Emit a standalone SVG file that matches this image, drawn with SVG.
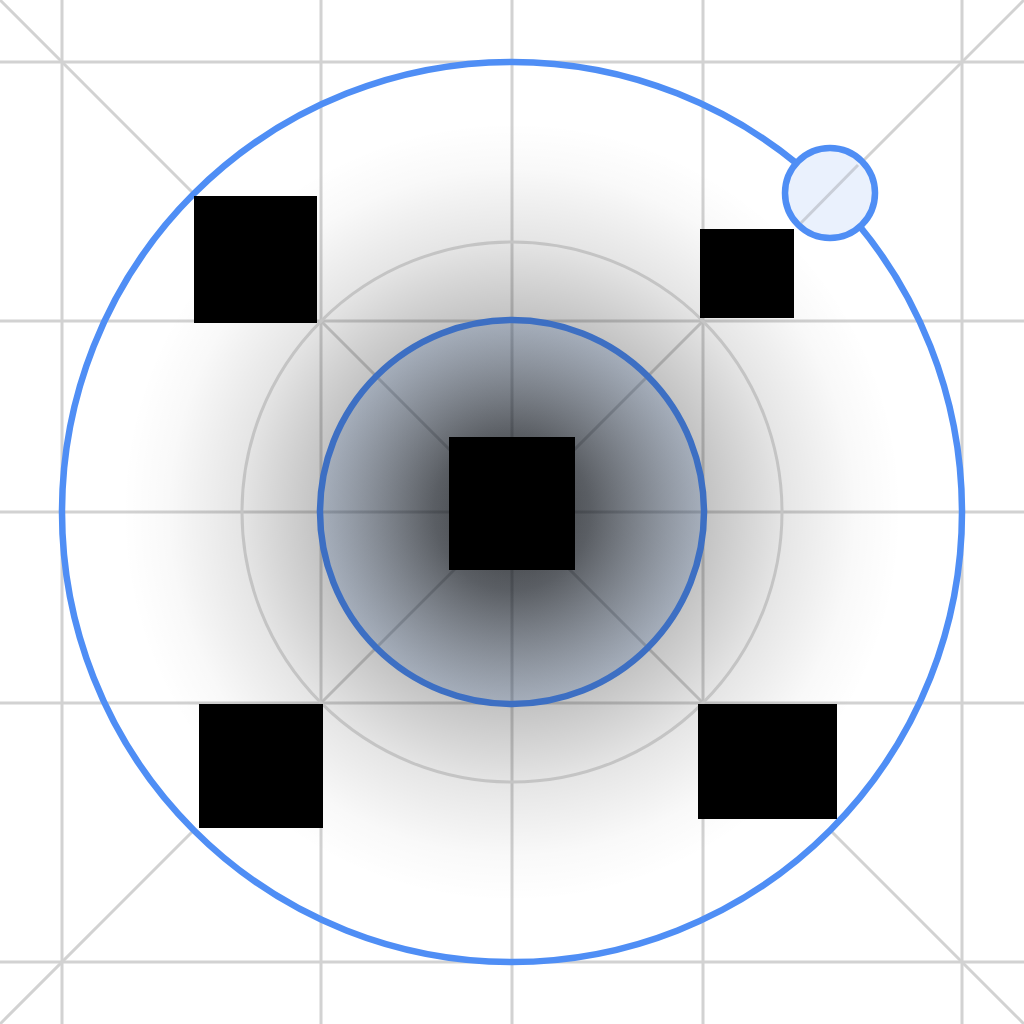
<svg xmlns="http://www.w3.org/2000/svg" width="1024" height="1024" viewBox="0 0 1024 1024">
  <defs>
    <radialGradient id="shadow" cx="512" cy="512" r="390" gradientUnits="userSpaceOnUse">
      <stop offset="0" stop-color="#000" stop-opacity="0.8"/>
      <stop offset="0.2" stop-color="#000" stop-opacity="0.64"/>
      <stop offset="0.49" stop-color="#000" stop-opacity="0.24"/>
      <stop offset="0.7" stop-color="#000" stop-opacity="0.1"/>
      <stop offset="0.88" stop-color="#000" stop-opacity="0.025"/>
      <stop offset="1" stop-color="#000" stop-opacity="0"/>
    </radialGradient>
    <radialGradient id="tint" cx="512" cy="512" r="192" gradientUnits="userSpaceOnUse">
      <stop offset="0" stop-color="#4a6fa5" stop-opacity="0.04"/>
      <stop offset="0.5" stop-color="#4a6fa5" stop-opacity="0.12"/>
      <stop offset="1" stop-color="#4a6fa5" stop-opacity="0.24"/>
    </radialGradient>
    <style>
      .grid { stroke: #d2d2d2; stroke-width: 3; fill: none; }
      .ring { stroke: #c4c4c4; stroke-width: 3; fill: none; }
      .box { fill: #000; }
    </style>
  </defs>
  <rect width="1024" height="1024" fill="#fff"/>
  <g id="grid">
    <line class="grid" x1="62" y1="0" x2="62" y2="1024"/>
    <line class="grid" x1="321" y1="0" x2="321" y2="1024"/>
    <line class="grid" x1="512" y1="0" x2="512" y2="1024"/>
    <line class="grid" x1="703" y1="0" x2="703" y2="1024"/>
    <line class="grid" x1="962" y1="0" x2="962" y2="1024"/>
    <line class="grid" x1="0" y1="62" x2="1024" y2="62"/>
    <line class="grid" x1="0" y1="321" x2="1024" y2="321"/>
    <line class="grid" x1="0" y1="512" x2="1024" y2="512"/>
    <line class="grid" x1="0" y1="703" x2="1024" y2="703"/>
    <line class="grid" x1="0" y1="962" x2="1024" y2="962"/>
    <line class="grid" x1="0" y1="0" x2="194" y2="194"/>
    <line class="grid" x1="1024" y1="1024" x2="830" y2="830"/>
    <line class="grid" x1="0" y1="1024" x2="194" y2="830"/>
    <line class="grid" x1="1024" y1="0" x2="830" y2="194"/>
    <line class="grid" x1="321" y1="321" x2="703" y2="703"/>
    <line class="grid" x1="703" y1="321" x2="321" y2="703"/>
  </g>
  <g id="shadow-area">
    <circle cx="512" cy="512" r="390" fill="url(#shadow)"/>
  </g>
  <g id="keyline-ring">
    <circle class="ring" cx="512" cy="512" r="270"/>
  </g>
  <g id="inner-circle">
    <circle cx="512" cy="512" r="192" fill="url(#tint)" stroke="#3d6fc3" stroke-width="6.5"/>
  </g>
  <g id="outer-circle">
    <circle cx="512" cy="512" r="450" fill="none" stroke="#4f8ef5" stroke-width="6.5"/>
  </g>
  <g id="handle">
    <circle cx="830" cy="193" r="45" fill="#eaf1fd"/>
    <line x1="858" y1="165" x2="798" y2="226" stroke="#c9ced8" stroke-width="3"/>
    <circle cx="830" cy="193" r="45" fill="none" stroke="#4f8ef5" stroke-width="6.5"/>
  </g>
  <g id="squares">
    <rect id="sq-center" class="box" x="449" y="437" width="126" height="133"/>
    <rect id="sq-tl" class="box" x="194" y="196" width="123" height="127"/>
    <rect id="sq-tr" class="box" x="700" y="229" width="94" height="89"/>
    <rect id="sq-bl" class="box" x="199" y="704" width="124" height="124"/>
    <rect id="sq-br" class="box" x="698" y="704" width="139" height="115"/>
  </g>
</svg>
